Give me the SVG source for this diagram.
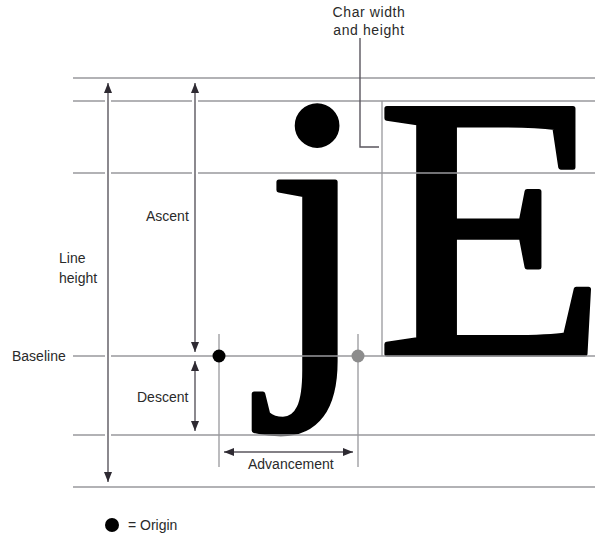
<svg xmlns="http://www.w3.org/2000/svg" width="595" height="535" viewBox="0 0 595 535">
<defs>
<style>
.guide{stroke:#98989c;stroke-width:1.3;fill:none}
.arr{stroke:#5a565e;stroke-width:1.4;fill:none}
.halo{stroke:#fff;stroke-width:6;fill:none}
.lbl{font-family:"Liberation Sans",Arial,sans-serif;font-size:14px;fill:#2a2a2a}
.glyph{font-family:"Liberation Serif","Times New Roman",serif;font-size:375px;fill:#000;stroke:#000;stroke-width:5;stroke-linejoin:round}
</style>
<marker id="ah" viewBox="0 0 10 16" refX="10" refY="8" markerWidth="10" markerHeight="16" markerUnits="userSpaceOnUse" orient="auto-start-reverse">
<path d="M0,4 L10,8 L0,12 Z" fill="#2e2a32"/>
</marker>
</defs>
<g id="glyphs">
<text class="glyph" x="265" y="354">j</text>
<text class="glyph" transform="translate(376,354) scale(1.01,1)" x="0" y="0">E</text>
</g>
<g id="guides">
<line class="guide" x1="73" y1="78" x2="595" y2="78"/>
<line class="guide" x1="73" y1="101" x2="595" y2="101"/>
<line class="guide" x1="73" y1="173" x2="595" y2="173"/>
<line class="guide" x1="73" y1="356" x2="595" y2="356"/>
<line class="guide" x1="73" y1="435" x2="595" y2="435"/>
<line class="guide" x1="73" y1="487" x2="595" y2="487"/>
<line class="guide" x1="382" y1="101" x2="382" y2="356"/>
<line class="guide" x1="219" y1="334" x2="219" y2="467"/>
<line class="guide" x1="358" y1="334" x2="358" y2="467"/>
</g>
<g id="connectors">
<line class="halo" x1="108" y1="90" x2="108" y2="476"/>
<line class="halo" x1="195" y1="90" x2="195" y2="346"/>
<line class="halo" x1="195" y1="366" x2="195" y2="426"/>
<line class="arr" x1="108" y1="83" x2="108" y2="482" marker-start="url(#ah)" marker-end="url(#ah)"/>
<line class="arr" x1="195" y1="83" x2="195" y2="352" marker-start="url(#ah)" marker-end="url(#ah)"/>
<line class="arr" x1="195" y1="361" x2="195" y2="431" marker-start="url(#ah)" marker-end="url(#ah)"/>
<line class="arr" x1="224" y1="452" x2="353" y2="452" marker-start="url(#ah)" marker-end="url(#ah)"/>
<polyline class="arr" points="360,38 360,147 379,147"/>
</g>
<g id="origins">
<circle cx="219" cy="356" r="6.5" fill="#000"/>
<circle cx="358" cy="356" r="6.5" fill="#8c8c8c"/>
</g>
<g id="labels">
<text class="lbl" x="369" y="17" text-anchor="middle" letter-spacing="0.6" font-size="13">Char width</text>
<text class="lbl" x="369" y="35" text-anchor="middle" letter-spacing="0.6" font-size="13">and height</text>
<text class="lbl" x="146" y="221">Ascent</text>
<text class="lbl" x="59" y="263">Line</text>
<text class="lbl" x="59" y="283">height</text>
<text class="lbl" x="12" y="361">Baseline</text>
<text class="lbl" x="137" y="402">Descent</text>
<text class="lbl" x="248" y="469">Advancement</text>
</g>
<g id="legend">
<circle cx="112" cy="525" r="7" fill="#000"/>
<text class="lbl" x="128" y="530">= Origin</text>
</g>
</svg>
